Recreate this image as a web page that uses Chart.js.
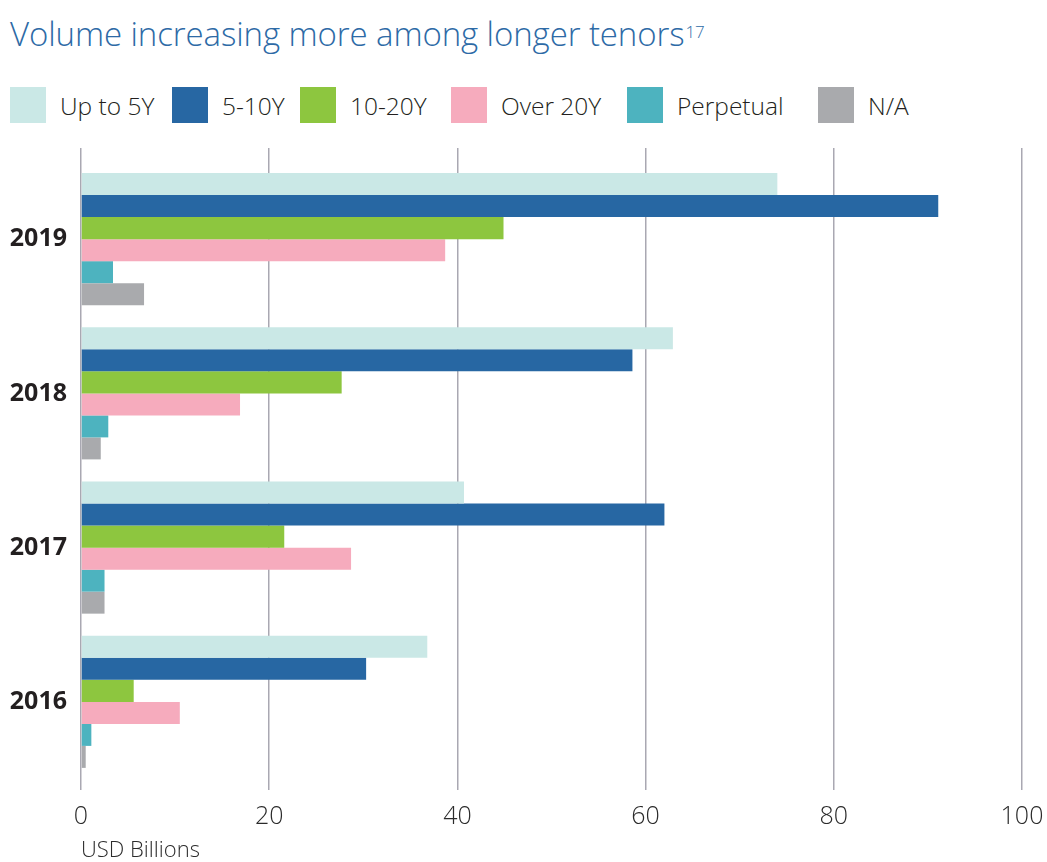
<!DOCTYPE html>
<html><head><meta charset="utf-8">
<script src="https://cdn.jsdelivr.net/npm/chart.js@4"></script>
<style>
html,body{margin:0;padding:0;background:#fff;}
#wrap{position:relative;width:1047px;height:862px;overflow:hidden;background:#fff;}
#title{position:absolute;left:10px;top:12px;font-family:'Open Sans',sans-serif;font-weight:300;font-size:33px;color:#2d6aa6;white-space:nowrap;line-height:44px;letter-spacing:-0.1px;}
#title sup{font-size:17px;vertical-align:top;position:relative;top:-2px;margin-left:1px;}
.lg{position:absolute;top:87px;height:36px;display:flex;align-items:center;font-family:'Open Sans',sans-serif;font-weight:300;font-size:24.5px;color:#231f20;white-space:nowrap;}
.lg i{display:inline-block;width:36px;height:36px;margin-right:14px;}
#cv{position:absolute;left:0;top:140px;}
</style></head>
<body>
<div id="wrap">
  <div id="title">Volume increasing more among longer tenors<sup>17</sup></div>
  <div id="legend"></div>
  <canvas id="cv" width="1047" height="722"></canvas>
</div>
<script>
const categories = ['2019', '2018', '2017', '2016'];
const seriesNames = ['Up to 5Y', '5-10Y', '10-20Y', 'Over 20Y', 'Perpetual', 'N/A'];
const upTo5Y = [74.0, 62.9, 40.7, 36.8];
const y5to10 = [91.1, 58.6, 62.0, 30.3];
const y10to20 = [44.9, 27.7, 21.6, 5.6];
const over20Y = [38.7, 16.9, 28.7, 10.5];
const perpetual = [3.4, 2.9, 2.5, 1.1];
const notAvailable = [6.7, 2.1, 2.5, 0.5];
const xTicks = [0, 20, 40, 60, 80, 100];

const seriesColors = ['#cae8e6', '#2767a3', '#8dc63f', '#f6abbd', '#4db3bf', '#a9aaad'];
const legendLeft = [10, 172, 300, 451, 627, 818];
const gridColor = '#a9a8b2';

const seriesValues = [upTo5Y, y5to10, y10to20, over20Y, perpetual, notAvailable];

// HTML legend
const lg = document.getElementById('legend');
seriesNames.forEach((n, i) => {
  const d = document.createElement('div');
  d.className = 'lg';
  d.style.left = legendLeft[i] + 'px';
  const b = document.createElement('i');
  b.style.background = seriesColors[i];
  d.appendChild(b);
  d.appendChild(document.createTextNode(n));
  lg.appendChild(d);
});

const setTicks = s => { s.ticks = xTicks.map(v => ({ value: v })); };

new Chart(document.getElementById('cv'), {
  type: 'bar',
  data: {
    labels: categories,
    datasets: seriesNames.map((n, i) => ({
      label: n,
      data: seriesValues[i],
      backgroundColor: seriesColors[i],
      borderWidth: 0,
      categoryPercentage: 0.856,
      barPercentage: 1
    }))
  },
  options: {
    responsive: false,
    animation: false,
    indexAxis: 'y',
    layout: { padding: { top: 8, right: 25, left: 0, bottom: 0 } },
    plugins: { legend: { display: false }, tooltip: { enabled: false } },
    scales: {
      x: {
        type: 'linear', position: 'bottom', min: 0, max: 100,
        afterBuildTicks: setTicks,
        grid: { color: gridColor, lineWidth: 1.5, tickLength: 11, drawTicks: true },
        border: { display: false },
        ticks: { font: { family: 'Open Sans', size: 25, weight: 300 }, color: '#2b2b2b', padding: 12, maxRotation: 0 },
        title: { display: true, text: 'USD Billions', align: 'start', color: '#2b2b2b',
                 font: { family: 'Open Sans', size: 22, weight: 300, lineHeight: 1 }, padding: { top: 0, bottom: 0 } },
        afterFit: s => { s.height = 83; s.paddingLeft = 0; s.paddingRight = 0; }
      },
      xTop: {
        type: 'linear', axis: 'x', position: 'top', min: 0, max: 100,
        afterBuildTicks: setTicks,
        grid: { color: gridColor, lineWidth: 1.5, tickLength: 14, drawOnChartArea: false, drawTicks: true },
        border: { display: false },
        ticks: { display: false },
        afterFit: s => { s.height = 14; s.paddingLeft = 0; s.paddingRight = 0; }
      },
      y: {
        grid: { display: false, drawTicks: false },
        border: { display: false },
        ticks: { font: { family: 'Open Sans', size: 25, weight: 'bold' }, color: '#231f20', padding: 14 },
        afterFit: s => { s.width = 81; s.paddingTop = 0; s.paddingBottom = 0; }
      }
    }
  }
});
</script>
</body></html>
